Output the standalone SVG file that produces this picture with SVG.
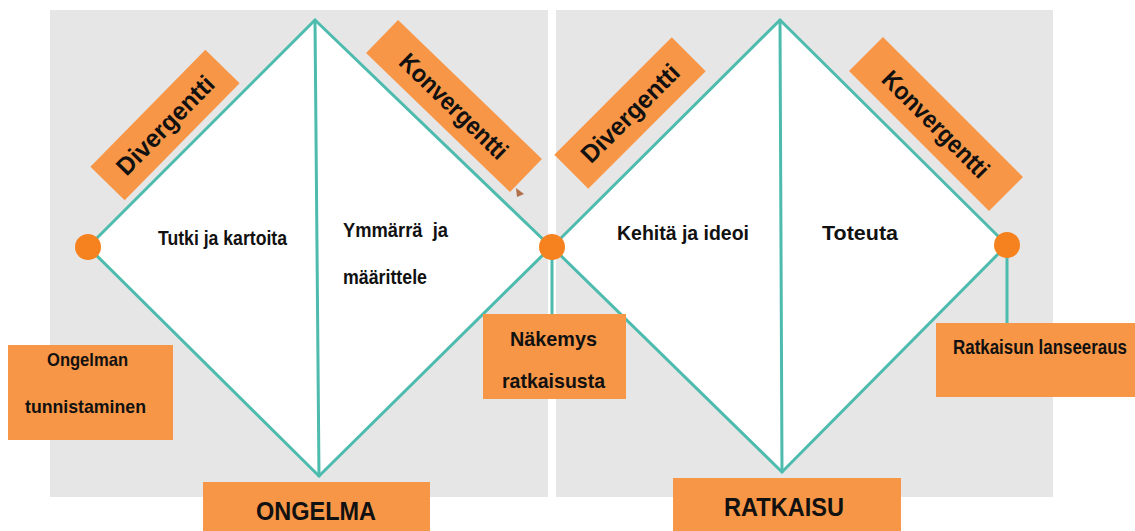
<svg xmlns="http://www.w3.org/2000/svg" width="1135" height="531" viewBox="0 0 1135 531">
<style>
.panel{fill:#e6e6e6}
.dia{fill:#ffffff;stroke:none}
.ln{stroke:#4dbbad;stroke-width:3;fill:none;stroke-linecap:round;stroke-linejoin:round}
.box{fill:#f79646}
.dot{fill:#f5821f}
text{font-family:"Liberation Sans",Arial,sans-serif;font-weight:bold;fill:#111111}
.t{font-size:20px}
.s{font-size:19px}
.n{font-size:21px}
.big{font-size:26px}
.rot{font-size:25px}
</style>
<rect width="1135" height="531" fill="#ffffff"/>
<g id="panels">
<rect class="panel" x="50" y="10" width="498" height="487"/>
<rect class="panel" x="556" y="10" width="497" height="487"/>
</g>
<g id="diamond-ongelma">
<polygon class="dia" points="88,247 315,20 551,247 319,476"/>
</g>
<g id="diamond-ratkaisu">
<polygon class="dia" points="552,247 780,20 1007,245 782,472"/>
</g>
<g id="connectors">
<polygon class="ln" points="88,247 315,20 551,247 319,476"/>
<line class="ln" x1="315" y1="20" x2="319" y2="476"/>
<polygon class="ln" points="552,247 780,20 1007,245 782,472"/>
<line class="ln" x1="780" y1="20" x2="782" y2="472"/>
<line class="ln" x1="552" y1="247" x2="552" y2="314"/>
<line class="ln" x1="1007" y1="245" x2="1007" y2="323"/>
</g>
<g id="text-tutki"><text class="t" x="158" y="245" textLength="129" lengthAdjust="spacingAndGlyphs">Tutki ja kartoita</text></g>
<g id="text-ymmarra">
<text class="t" x="343" y="237" xml:space="preserve" textLength="105" lengthAdjust="spacingAndGlyphs">Ymmärrä  ja</text>
<text class="t" x="343" y="284" textLength="84" lengthAdjust="spacingAndGlyphs">määrittele</text>
</g>
<g id="text-kehita"><text class="t" x="617" y="240" textLength="132" lengthAdjust="spacingAndGlyphs">Kehitä ja ideoi</text></g>
<g id="text-toteuta"><text class="t" x="822" y="240" textLength="76" lengthAdjust="spacingAndGlyphs">Toteuta</text></g>
<g id="label-divergentti-1" transform="translate(165,125) rotate(-45.5)">
<rect class="box" x="-82" y="-24" width="164" height="48"/>
<text class="rot" x="-64" y="9" textLength="128" lengthAdjust="spacingAndGlyphs">Divergentti</text>
</g>
<g id="label-konvergentti-1" transform="translate(454,106) rotate(44)">
<rect class="box" x="-100" y="-23" width="200" height="46"/>
<text class="rot" x="-70" y="9" textLength="140" lengthAdjust="spacingAndGlyphs">Konvergentti</text>
</g>
<polygon points="516,188 524,194 517,197" fill="#b0704a"/>
<g id="label-divergentti-2" transform="translate(630,113) rotate(-45)">
<rect class="box" x="-83" y="-24" width="166" height="48"/>
<text class="rot" x="-64" y="9" textLength="128" lengthAdjust="spacingAndGlyphs">Divergentti</text>
</g>
<g id="label-konvergentti-2" transform="translate(936,124) rotate(45)">
<rect class="box" x="-99" y="-24" width="198" height="48"/>
<text class="rot" x="-70" y="9" textLength="140" lengthAdjust="spacingAndGlyphs">Konvergentti</text>
</g>
<g id="node-ongelman">
<rect class="box" x="8" y="345" width="165" height="95"/>
<text class="s" x="47" y="366" textLength="81" lengthAdjust="spacingAndGlyphs">Ongelman</text>
<text class="s" x="25" y="413" textLength="121" lengthAdjust="spacingAndGlyphs">tunnistaminen</text>
</g>
<g id="node-nakemys">
<rect class="box" x="483" y="314" width="143" height="85"/>
<text class="n" x="510" y="346" textLength="87" lengthAdjust="spacingAndGlyphs">Näkemys</text>
<text class="n" x="502" y="388" textLength="103" lengthAdjust="spacingAndGlyphs">ratkaisusta</text>
</g>
<g id="node-lanseeraus">
<rect class="box" x="936" y="323" width="199" height="74"/>
<text class="t" x="953" y="354" textLength="174" lengthAdjust="spacingAndGlyphs">Ratkaisun lanseeraus</text>
</g>
<g id="node-ongelma">
<rect class="box" x="203" y="482" width="227" height="49"/>
<text class="big" x="256" y="520" textLength="120" lengthAdjust="spacingAndGlyphs">ONGELMA</text>
</g>
<g id="node-ratkaisu">
<rect class="box" x="673" y="478" width="228" height="53"/>
<text class="big" x="724" y="516" textLength="120" lengthAdjust="spacingAndGlyphs">RATKAISU</text>
</g>
<g id="dots">
<circle class="dot" cx="88" cy="247" r="13"/>
<circle class="dot" cx="552" cy="247" r="13"/>
<circle class="dot" cx="1007" cy="245" r="13"/>
</g>
</svg>
